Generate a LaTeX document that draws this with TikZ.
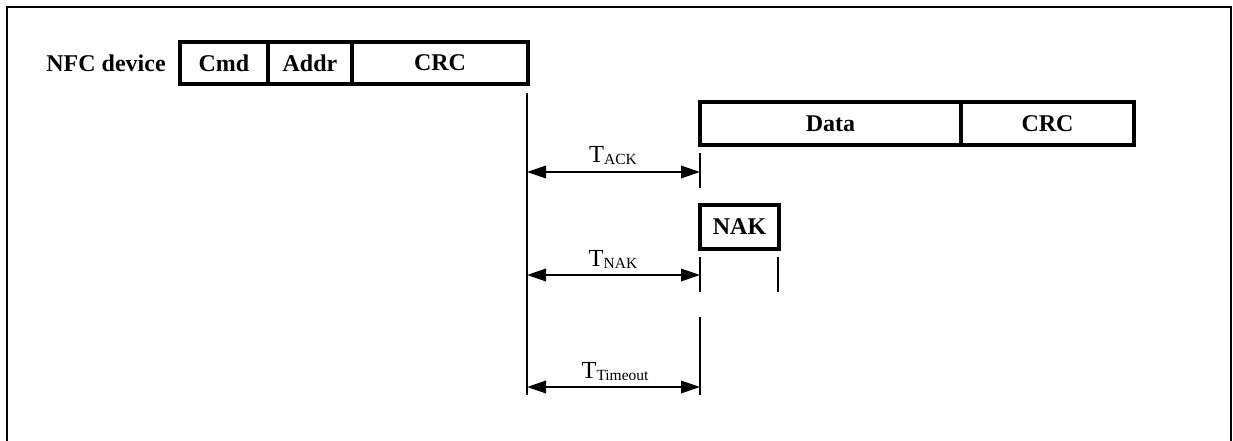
\documentclass[tikz,border=0pt]{standalone}
\usepackage{fontspec}
\setmainfont{Liberation Serif}
\usetikzlibrary{arrows.meta}
\newcommand{\subtxt}[1]{\raisebox{-2.5pt}{\fontsize{15.5}{16}\selectfont #1}}
\tikzset{
  fld/.style={draw, line width=3.3pt, inner sep=0pt, font=\fontsize{24}{28}\selectfont\bfseries},
  lbl/.style={inner sep=0pt, anchor=base, font=\fontsize{24.5}{28}\selectfont},
  tline/.style={line width=1.9pt},
  dim/.style={line width=1.9pt, {Triangle[length=19pt,width=12.5pt]}-{Triangle[length=19pt,width=12.5pt]}},
  framebox/.style={line width=2.2pt}
}
\begin{document}
\begin{tikzpicture}[x=1pt,y=-1pt]
\useasboundingbox (0,0) rectangle (1233,441);
\draw[framebox] (7,450) -- (7,7) -- (1231,7) -- (1231,450);
\node[inner sep=0pt, font=\fontsize{24}{28}\selectfont\bfseries] (dev) at (106,63) {NFC device};
\node[fld, minimum width=88pt, minimum height=42pt] (cmd) at (224,63) {Cmd};
\node[fld, minimum width=84pt, minimum height=42pt] (addr) at (310,63) {Addr};
\node[fld, minimum width=176pt, minimum height=42pt] (crc1) at (440,63) {CRC};
\node[fld, minimum width=261pt, minimum height=43pt] (data) at (830.5,123.5) {Data};
\node[fld, minimum width=173pt, minimum height=43pt] (crc2) at (1047.5,123.5) {CRC};
\node[fld, minimum width=79pt, minimum height=44pt] (nak) at (739.5,227) {NAK};
% time lines
\coordinate (vtop) at (527,93);
\coordinate (vbot) at (527,395);
\draw[tline] (vtop) -- (vbot);
\coordinate (a1t) at (700,153); \coordinate (a1b) at (700,188);
\draw[tline] (a1t) -- (a1b);
\coordinate (n1t) at (700,257); \coordinate (n1b) at (700,292);
\coordinate (n2t) at (778,257); \coordinate (n2b) at (778,292);
\draw[tline] (n1t) -- (n1b);
\draw[tline] (n2t) -- (n2b);
\coordinate (t1t) at (700,317); \coordinate (t1b) at (700,395);
\draw[tline] (t1t) -- (t1b);
% dimension arrows
\coordinate (ackL) at (527,172); \coordinate (ackR) at (700,172);
\coordinate (nakL) at (527,275); \coordinate (nakR) at (700,275);
\coordinate (toL) at (527,387); \coordinate (toR) at (700,387);
\draw[dim] (ackL) -- (ackR);
\draw[dim] (nakL) -- (nakR);
\draw[dim] (toL) -- (toR);
\node[lbl] (lack) at (613,162) {T\subtxt{ACK}};
\node[lbl] (lnak) at (613,266) {T\subtxt{NAK}};
\node[lbl] (lto) at (615,378) {T\subtxt{Timeout}};
\end{tikzpicture}
\end{document}
